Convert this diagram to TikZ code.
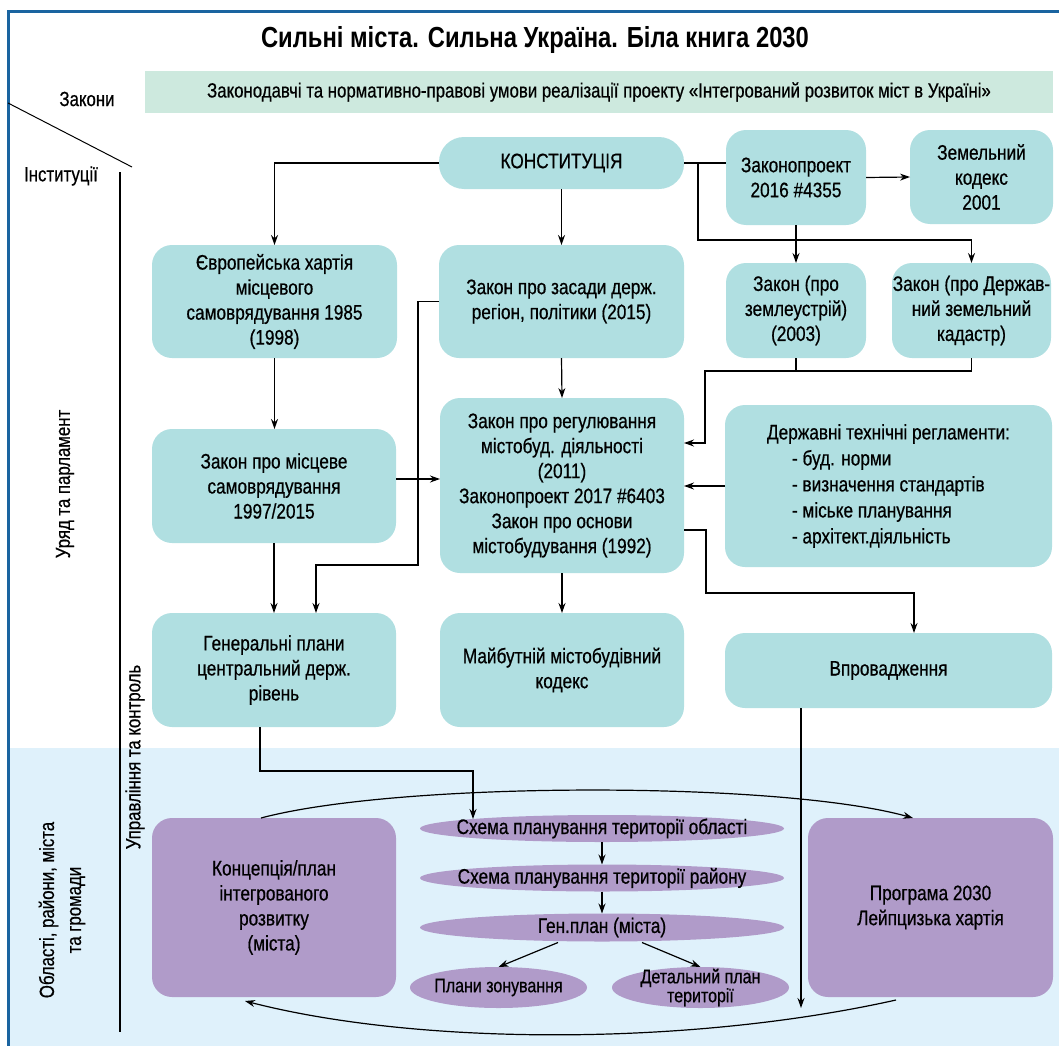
\documentclass[tikz,border=0pt]{standalone}
\usepackage{fontspec}
\setmainfont{Liberation Sans}[FakeStretch=0.82, UprightFeatures={FakeBold=0.6}]
\usetikzlibrary{arrows.meta,shapes.geometric,calc}
\definecolor{tealbox}{HTML}{B0DFE1}
\definecolor{purp}{HTML}{B09BC9}
\definecolor{greenband}{HTML}{CDE9DE}
\definecolor{lblue}{HTML}{DFF1FB}
\definecolor{frameblue}{HTML}{1A64A0}
\begin{document}
\begin{tikzpicture}[x=1pt,y=-1pt,
 every node/.style={inner sep=0pt, outer sep=0pt},
 txt/.style={font=\fontsize{21pt}{25pt}\selectfont},
 tbox/.style={txt, fill=tealbox, rounded corners=20pt, align=center},
 pbox/.style={txt, fill=purp, rounded corners=20pt, align=center},
 pell/.style={ellipse, fill=purp},
 conn/.style={line width=1.2pt, black},
 arr/.style={conn, -{Stealth[length=10pt,width=7pt]}},
 lbl/.style={font=\fontsize{20.5pt}{27pt}\selectfont, align=center}]
\useasboundingbox (0,0) rectangle (1059,1046);
% background band
\fill[lblue] (9,748) rectangle (1059,1046);
\draw[frameblue, line width=3pt] (1059,12) -- (8,12) -- (8,1046);

% title and band
\node[font=\bfseries\fontsize{29pt}{32pt}\selectfont] (title) at (535,40) {Сильні міста. Сильна Україна. Біла книга 2030};
\node[fill=greenband, minimum width=908pt, minimum height=42pt, font=\fontsize{20.5pt}{22pt}\selectfont] (band) at (599,92) {Законодавчі та нормативно-правові умови реалізації проекту «Інтегрований розвиток міст в Україні»};

% side labels
\node[lbl] (zakony) at (87,99) {Закони};
\node[lbl] (inst) at (61,176) {Інституції};
\coordinate (d1) at (8,103);
\coordinate (d2) at (132,167);
\draw[line width=1pt] (d1) -- (d2);
\coordinate (v1) at (120,172);
\coordinate (v2) at (120,1032);
\draw[line width=1.2pt] (v1) -- (v2);
\node[lbl, rotate=90] (uryad) at (65,484) {Уряд та парламент};
\node[lbl, rotate=90] (upr) at (135,757) {Управління та контроль};
\node[lbl, rotate=90] (obl) at (62,910) {Області, райони, міста\\та громади};

% teal boxes
\node[tbox, minimum width=245pt, minimum height=52pt, rounded corners=25pt] (konst) at (561.5,163) {КОНСТИТУЦІЯ};
\node[tbox, minimum width=140pt, minimum height=95pt] (zp) at (796,177.5) {Законопроект\\2016 \#4355};
\node[tbox, minimum width=143pt, minimum height=94pt] (zk) at (981.5,177) {Земельний\\кодекс\\2001};
\node[tbox, minimum width=245pt, minimum height=113pt] (euro) at (274.5,301.5) {Європейська хартія\\місцевого\\самоврядування 1985\\(1998)};
\node[tbox, minimum width=245pt, minimum height=113pt] (zas) at (561.5,301.5) {Закон про засади держ.\\регіон, політики (2015)};
\node[tbox, minimum width=140pt, minimum height=95pt] (zem) at (796,310.5) {Закон (про\\землеустрій)\\(2003)};
\node[tbox, minimum width=159pt, minimum height=95pt] (kad) at (971.5,310.5) {Закон (про Держав-\\ний земельний\\кадастр)};
\node[tbox, minimum width=244pt, minimum height=114pt] (mis) at (274,486) {Закон про місцеве\\самоврядування\\1997/2015};
\node[tbox, minimum width=244pt, minimum height=175pt] (reg) at (562,485.5) {Закон про регулювання\\містобуд. діяльності\\(2011)\\Законопроект 2017 \#6403\\Закон про основи\\містобудування (1992)};
\node[tbox, minimum width=327pt, minimum height=162pt, align=left, font=\fontsize{21pt}{26pt}\selectfont] (dtr) at (888.5,486) {Державні технічні регламенти:\\\hspace*{25pt}- буд. норми\\\hspace*{25pt}- визначення стандартів\\\hspace*{25pt}- міське планування\\\hspace*{25pt}- архітект.діяльність};
\node[tbox, minimum width=244pt, minimum height=114pt] (gen) at (274,670) {Генеральні плани\\центральний держ.\\рівень};
\node[tbox, minimum width=244pt, minimum height=114pt] (maib) at (562,670) {Майбутній містобудівний\\кодекс};
\node[tbox, minimum width=327pt, minimum height=75pt] (vpr) at (888.5,670.5) {Впровадження};

% purple
\node[pbox, minimum width=244pt, minimum height=179pt] (konz) at (274,907.5) {Концепція/план\\інтегрованого\\розвитку\\(міста)};
\node[pbox, minimum width=245pt, minimum height=179pt] (prog) at (930.5,907.5) {Програма 2030\\Лейпцизька хартія};
\node[pell, minimum width=364pt, minimum height=27pt] (e1) at (602,828.5) {};
\node[pell, minimum width=364pt, minimum height=27pt] (e2) at (602,878) {};
\node[pell, minimum width=364pt, minimum height=28pt] (e3) at (602,927.5) {};
\node[pell, minimum width=177pt, minimum height=41pt] (zon) at (498.5,987.5) {};
\node[pell, minimum width=177pt, minimum height=41pt] (det) at (700.5,987.5) {};
\node[txt] (e1t) at (e1) {Схема планування території області};
\node[txt] (e2t) at (e2) {Схема планування території району};
\node[txt] (e3t) at (e3) {Ген.план (міста)};
\node[font=\fontsize{19.5pt}{19pt}\selectfont, align=center] (zont) at (zon) {Плани зонування};
\node[font=\fontsize{19.5pt}{19pt}\selectfont, align=center] (dett) at (det) {Детальний план\\території};

% connectors
\draw[arr] (konst.west) -| (euro.north);
\draw[arr] (konst.south) -- (zas.north);
\draw[conn] (konst.east) -- (konst.east -| zp.west);
\coordinate (b1) at ($(konst.east)+(14,0)$);
\draw[arr] (b1) -- ++(0,77) -| (kad.north);
\draw[arr] (zp.south) -- (zem.north);
\draw[arr] (zp.east) -- (zk.west);
\draw[conn] (zem.south) -- ++(0,13);
\draw[arr] (kad.south) -- ++(0,13) -| ($(reg.north east)+(21,45)$) -- ($(reg.north east)+(0,45)$);
\draw[arr] (dtr.west) -- (dtr.west -| reg.east);
\draw[arr] ($(reg.south east)+(0,-43)$) -- ++(22,0) |- ($(vpr.north)+(25.5,-40)$) -- ($(vpr.north)+(25.5,0)$);
\draw[arr] (zas.south) -- (reg.north);
\draw[arr] (zas.west) -- ++(-21,0) |- ($(gen.north)+(42,-48)$) -- ($(gen.north)+(42,0)$);
\draw[arr] (euro.south) -- (euro.south |- mis.north);
\draw[arr] ($(mis.east)+(0,-7)$) -- ($(mis.east -| reg.west)+(0,-7)$);
\draw[arr] (mis.south) -- (gen.north);
\draw[arr] (reg.south) -- (reg.south |- maib.north);
\draw[arr] ($(gen.south)+(-14,0)$) -- ++(0,44) -| ($(e1.north)+(-129,4)$);
\coordinate (vend) at (801,1008);
\draw[arr] ($(vpr.south)+(-87.5,0)$) -- (vend);
\draw[arr] ($(konz.north)+(-13,0)$) .. controls (400,781) and (780,781) .. ($(prog.north)+(-17.5,0)$);
\draw[arr] ($(prog.south)+(-34.5,3)$) .. controls (690,1046) and (420,1046) .. ($(konz.south)+(-29,4)$);
\draw[arr] (e1.south) -- (e2.north);
\draw[arr] (e2.south) -- (e3.north);
\draw[arr] ($(e3.south)+(-44,1)$) -- (zon.north);
\draw[arr] ($(e3.south)+(40,1)$) -- (det.north);
\end{tikzpicture}
\end{document}
